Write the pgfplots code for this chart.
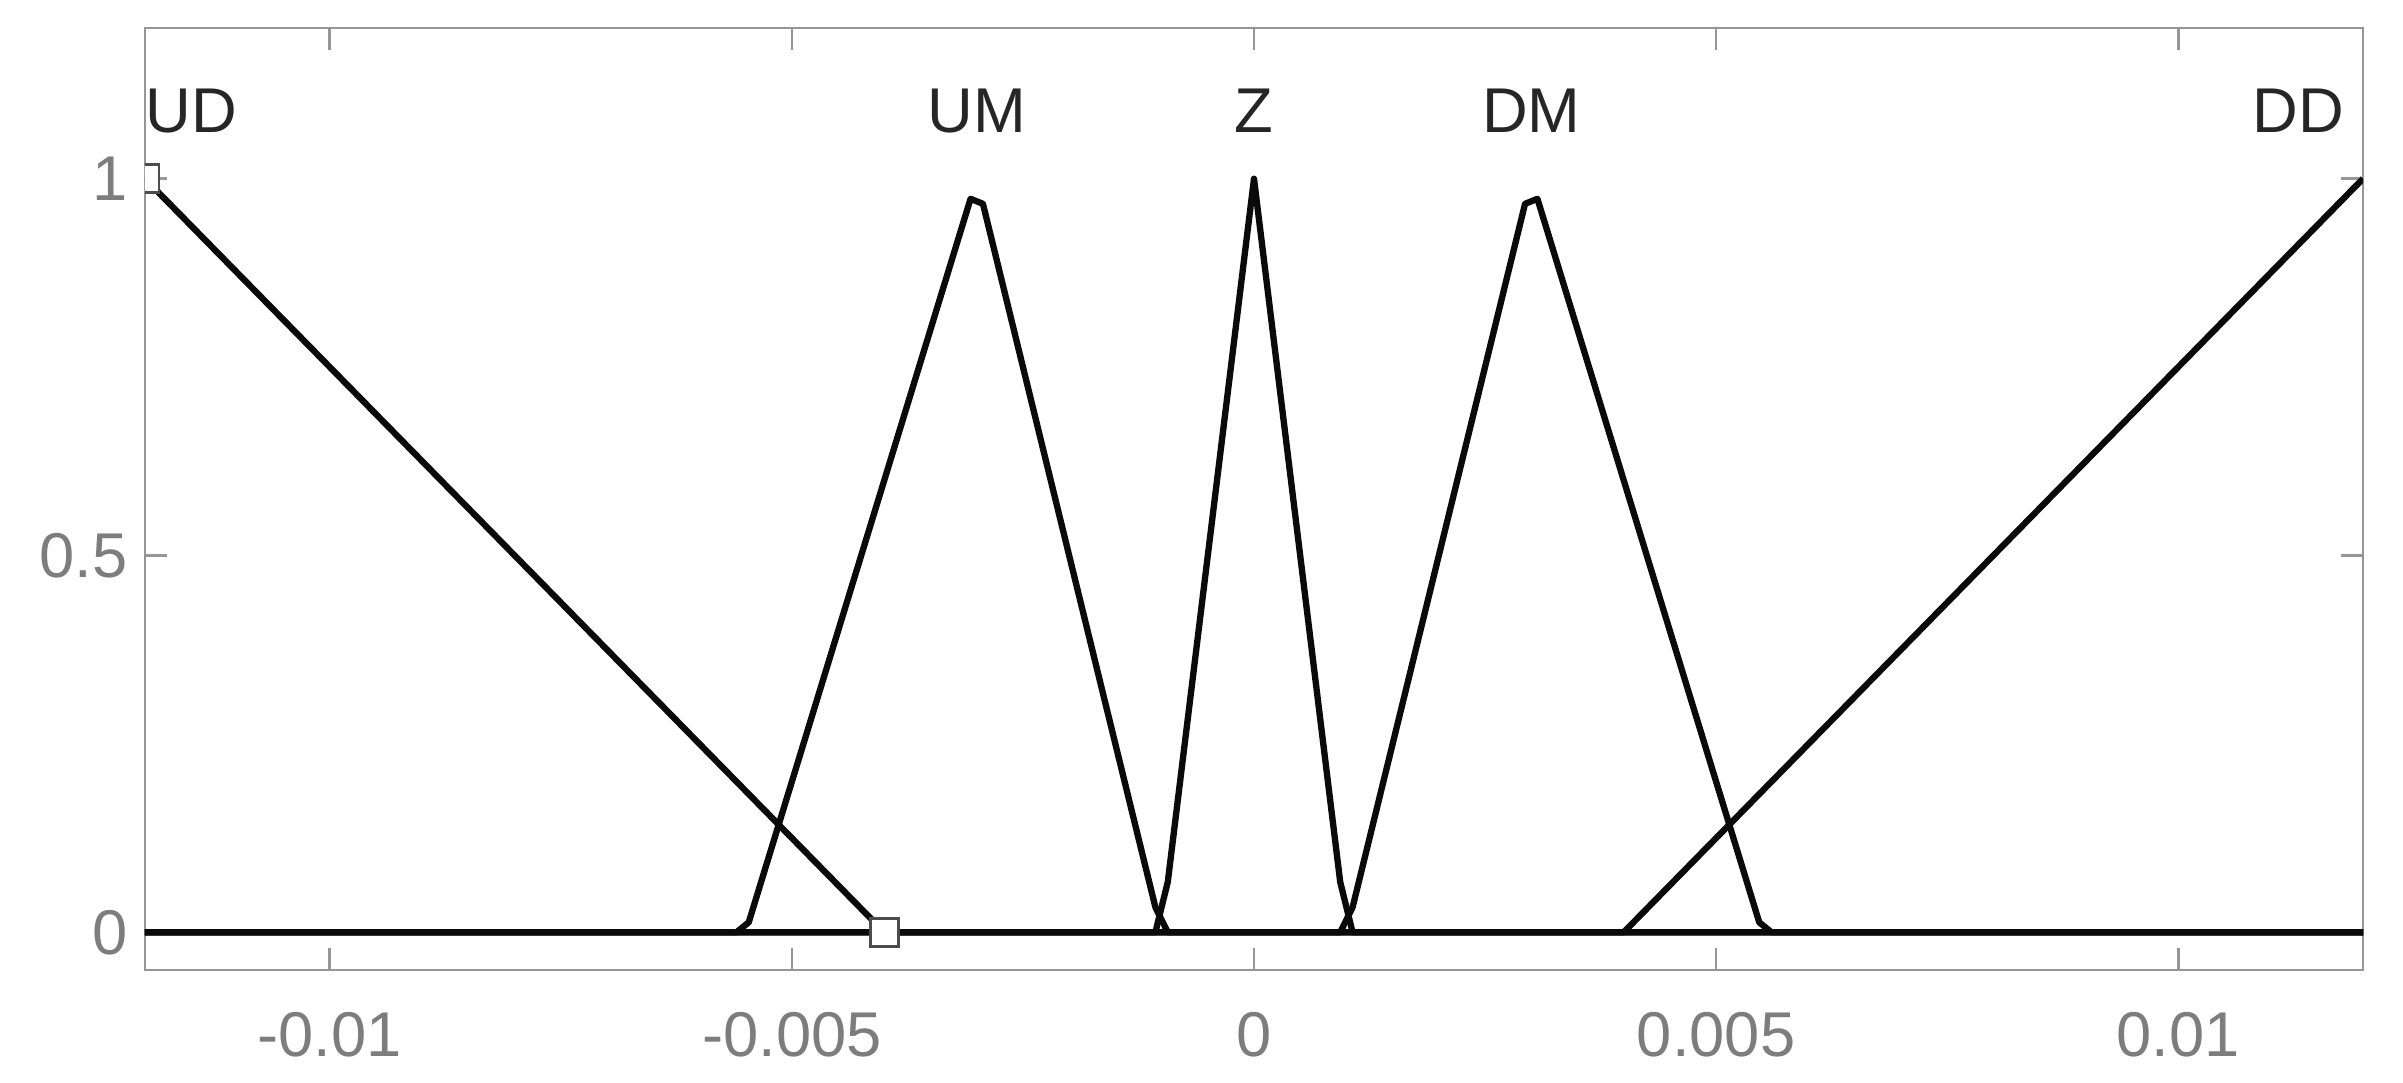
\documentclass[border=0pt]{standalone}
\usepackage{pgfplots}
\pgfplotsset{compat=1.18}
\usepackage{fontspec}
\setmainfont{Liberation Sans}
\definecolor{spine}{RGB}{150,150,150}
\definecolor{ticktext}{RGB}{125,125,125}
\definecolor{mfline}{RGB}{10,10,10}

\begin{document}
\begin{tikzpicture}
% picture frame, same proportions as the reference
\path[use as bounding box] (-1.45cm,-1.13cm) rectangle (22.58cm,9.70cm);
\begin{axis}[
    at={(0,0)}, anchor=south west,
    scale only axis,
    width=22.18cm,
    height=9.42cm,
    xmin=-0.012, xmax=0.012,
    ymin=-0.05, ymax=1.2,
    xtick={-0.01,-0.005,0,0.005,0.01},
    xticklabels={-0.01,-0.005,0,0.005,0.01},
    ytick={0,0.5,1},
    yticklabels={0,0.5,1},
    scaled x ticks=false,
    tick align=inside,
    major tick length=0.22cm,
    axis line style={spine, line width=0.8pt},
    every tick/.style={spine, line width=0.8pt},
    ticklabel style={font=\fontsize{18}{20}\selectfont, text=ticktext},
    xticklabel style={yshift=-0.3cm},
    yticklabel style={xshift=-0.05cm},
    /pgf/number format/assume math mode=true,
    clip=true,
    clip marker paths=true,
    mfstyle/.style={mfline, line width=1.8pt, line join=round},
]
% UD
\addplot[mfstyle] coordinates {
(-0.012,1) (-0.004,0) (0.012,0)
};
% UM
\addplot[mfstyle] coordinates {
(-0.012,0) (-0.0056,0) (-0.005467,0.0133) (-0.003067,0.9733)
(-0.002933,0.9667) (-0.001067,0.0333) (-0.000933,0) (0.012,0)
};
% Z
\addplot[mfstyle] coordinates {
(-0.012,0) (-0.001067,0) (-0.000933,0.0667) (0,1)
(0.000933,0.0667) (0.001067,0) (0.012,0)
};
% DM
\addplot[mfstyle] coordinates {
(-0.012,0) (0.000933,0) (0.001067,0.0333) (0.002933,0.9667)
(0.003067,0.9733) (0.005467,0.0133) (0.0056,0) (0.012,0)
};
% DD
\addplot[mfstyle] coordinates {
(-0.012,0) (0.004,0) (0.012,1)
};
% selected MF vertices
\addplot[only marks, mark=square*, mark size=4pt,
    mark options={draw=black!70, fill=white, line width=0.8pt}] coordinates {
(-0.012,1) (-0.004,0)
};
\node[anchor=west, font=\fontsize{18}{20}\selectfont, text=black!85, inner sep=0pt]
    at (axis cs:-0.012,1.09) {UD};
\node[font=\fontsize{18}{20}\selectfont, text=black!85, inner sep=0pt]
    at (axis cs:-0.003,1.09) {UM};
\node[font=\fontsize{18}{20}\selectfont, text=black!85, inner sep=0pt]
    at (axis cs:0,1.09) {Z};
\node[font=\fontsize{18}{20}\selectfont, text=black!85, inner sep=0pt]
    at (axis cs:0.003,1.09) {DM};
\node[anchor=east, font=\fontsize{18}{20}\selectfont, text=black!85, inner sep=0pt]
    at (axis cs:0.0118,1.09) {DD};
\end{axis}
\end{tikzpicture}
\end{document}
